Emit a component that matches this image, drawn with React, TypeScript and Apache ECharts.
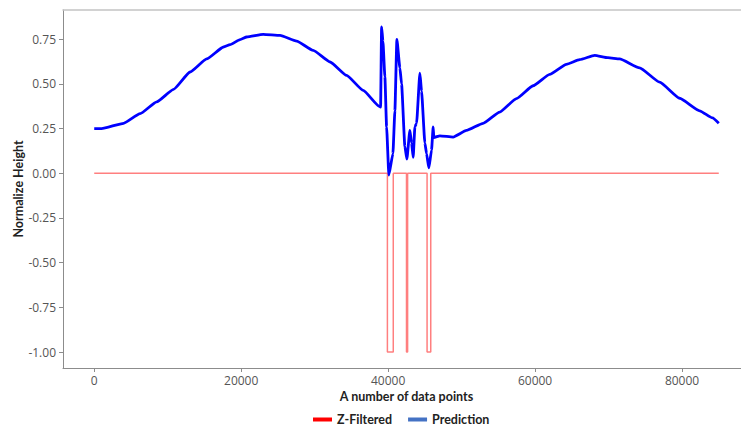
import React, { useEffect, useRef } from "react";
import * as echarts from "echarts";

// Prediction series (x = data point index, y = normalized height)
const predX = [
  0, 1000, 4000, 6250, 8500, 10800, 13050, 15300, 17600, 18500, 19850, 20750, 23000, 25300, 27550,
  29800, 32100, 34350, 36600, 38800, 38975, 39110, 39290, 39560, 39790, 40100, 40650, 40920, 41190,
  41600, 41830, 42280, 42550, 42960, 43190, 43410, 43640, 43870, 44320, 44550, 45000, 45230, 45540,
  45910, 46130, 46220, 47040, 48850, 50670, 52930, 55190, 57460, 59720, 61990, 64260, 66070, 68110,
  69920, 71510, 74230, 76950, 79680, 82400, 84150, 85000,
];
const predY = [
  0.25, 0.25, 0.28, 0.334, 0.4, 0.47, 0.567, 0.64, 0.707, 0.72, 0.748, 0.763, 0.778, 0.772, 0.74,
  0.688, 0.623, 0.548, 0.464, 0.375, 0.37, 0.82, 0.74, 0.54, 0.26, -0.01, 0.11, 0.35, 0.75,
  0.59, 0.5, 0.15, 0.08, 0.24, 0.17, 0.09, 0.26, 0.28, 0.56, 0.46, 0.17, 0.11, 0.03,
  0.13, 0.26, 0.2, 0.21, 0.203, 0.24, 0.28, 0.343, 0.418, 0.49, 0.554, 0.61, 0.636, 0.66,
  0.647, 0.64, 0.59, 0.51, 0.42, 0.35, 0.31, 0.28,
];

// Z-Filtered series (step pulses)
const zX = [0, 39900, 39900, 40700, 40700, 42500, 42500, 42650, 42650, 45300, 45300, 45800, 45800, 85000];
const zY = [0, 0, -1, -1, 0, 0, -1, -1, 0, 0, -1, -1, 0, 0];

const xTicks = [0, 20000, 40000, 60000, 80000];
const yTicks = [-1.0, -0.75, -0.5, -0.25, 0.0, 0.25, 0.5, 0.75];

const seriesNames = ["Z-Filtered", "Prediction"];

const FONT = "'Open Sans', 'Liberation Sans', sans-serif";
const BOLD_FONT = "Lato, 'Open Sans', sans-serif";

export default function App() {
  const ref = useRef<HTMLDivElement>(null);
  useEffect(() => {
    if (!ref.current) return;
    const chart = echarts.init(ref.current, null, { renderer: "svg" });
    const xMin = -4250;
    const xMax = 89250;
    const yMin = -1.0895;
    const yMax = 0.914;
    chart.setOption({
      animation: false,
      backgroundColor: "#ffffff",
      textStyle: { fontFamily: FONT },
      grid: {
        left: 63,
        top: 10,
        right: -9,
        bottom: 59,
        containLabel: false,
        outerBoundsMode: "none",
      },
      legend: {
        left: 308,
        top: 408,
        itemWidth: 19,
        itemHeight: 4,
        itemGap: 16,
        icon: "rect",
        textStyle: { fontFamily: BOLD_FONT, fontWeight: "bold", fontSize: 12.5, color: "#222" },
        data: [
          { name: seriesNames[0], itemStyle: { color: "#ff0000" }, lineStyle: { color: "#ff0000" } },
          { name: seriesNames[1], itemStyle: { color: "#4472c4" }, lineStyle: { color: "#4472c4" } },
        ],
      },
      xAxis: [
        {
          type: "value",
          min: xMin,
          max: xMax,
          name: "A number of data points",
          nameLocation: "middle",
          nameGap: 22,
          nameMoveOverlap: false,
          nameTextStyle: { fontFamily: BOLD_FONT, fontWeight: "bold", fontSize: 12.5, color: "#222" },
          splitLine: { show: false },
          axisLine: { show: true, onZero: false, lineStyle: { color: "#8c8c8c", width: 1 } },
          axisTick: { show: true, length: 4, lineStyle: { color: "#8c8c8c" }, customValues: xTicks },
          axisLabel: {
            color: "#555",
            fontSize: 12,
            fontFamily: FONT,
            margin: 6,
            customValues: xTicks,
            formatter: (v: number) => String(v),
          },
        },
        {
          type: "value",
          position: "top",
          min: xMin,
          max: xMax,
          splitLine: { show: false },
          axisLine: { show: true, onZero: false, lineStyle: { color: "#c4c4c4", width: 1.5 } },
          axisTick: { show: false },
          axisLabel: { show: false },
        },
      ],
      yAxis: {
        type: "value",
        min: yMin,
        max: yMax,
        name: "Normalize Height",
        nameLocation: "middle",
        nameGap: 38,
        nameMoveOverlap: false,
        nameTextStyle: { fontFamily: BOLD_FONT, fontWeight: "bold", fontSize: 12.5, color: "#222" },
        splitLine: { show: false },
        axisLine: { show: true, onZero: false, lineStyle: { color: "#8c8c8c", width: 1 } },
        axisTick: { show: true, length: 4, lineStyle: { color: "#8c8c8c" }, customValues: yTicks },
        axisLabel: {
          color: "#555",
          fontSize: 12,
          fontFamily: FONT,
          margin: 7,
          customValues: yTicks,
          formatter: (v: number) => v.toFixed(2),
        },
      },
      series: [
        {
          name: seriesNames[0],
          type: "line",
          xAxisIndex: 0,
          showSymbol: false,
          symbol: "none",
          data: zX.map((x, i) => [x, zY[i]]),
          lineStyle: { color: "rgba(255,0,0,0.5)", width: 1.5 },
          itemStyle: { color: "#ff0000" },
          z: 2,
        },
        {
          name: seriesNames[1],
          type: "line",
          xAxisIndex: 0,
          showSymbol: false,
          symbol: "none",
          smooth: 0.15,
          smoothMonotone: "x",
          data: predX.map((x, i) => [x, predY[i]]),
          lineStyle: { color: "#0000ff", width: 2.8 },
          itemStyle: { color: "#4472c4" },
          z: 3,
        },
      ],
    });
    return () => chart.dispose();
  }, []);
  return (
    <div
      ref={ref}
      style={{ position: "fixed", left: 0, top: 0, width: 741, height: 427, background: "#fff" }}
    />
  );
}
